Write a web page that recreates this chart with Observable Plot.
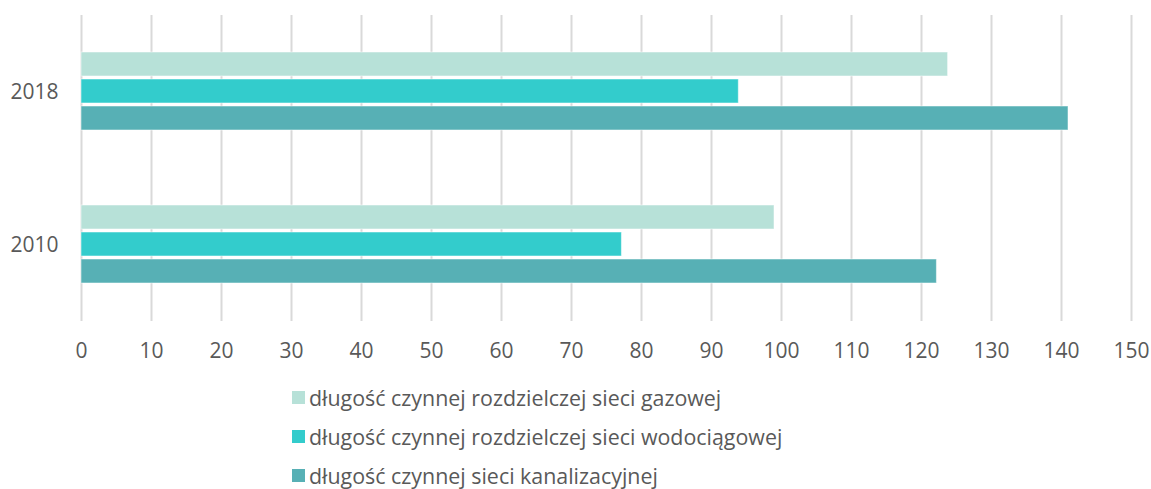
<!DOCTYPE html>
<html>
<head>
<meta charset="utf-8">
<script src="https://cdn.jsdelivr.net/npm/d3@7"></script>
<script src="https://cdn.jsdelivr.net/npm/@observablehq/plot@0.6"></script>
<style>
  body { margin: 0; background: #fff; font-family: "Open Sans", sans-serif; overflow: hidden; }
  #legend { margin-top: 12px; padding-left: 292px; color: #595959; font-size: 21.4px; line-height: 24px; }
  .row { height: 39px; display: flex; align-items: center; }
  .sw { width: 13px; height: 13px; margin-right: 4px; flex: none; }
</style>
</head>
<body>
<div id="chart"></div>
<div id="legend"></div>
<script>
const years = ["2018", "2010"];
const series = [
  "długość czynnej rozdzielczej sieci gazowej",
  "długość czynnej rozdzielczej sieci wodociągowej",
  "długość czynnej sieci kanalizacyjnej"
];
const gas = [123.8, 99.0];
const water = [93.9, 77.2];
const sewer = [141.0, 122.2];
const colors = ["#b7e1d8", "#33cccc", "#57b0b5"];
const xTicks = d3.range(0, 151, 10);

const seriesValues = [gas, water, sewer];
const data = [];
years.forEach((yr, i) => {
  series.forEach((s, j) => data.push({year: yr, series: s, value: seriesValues[j][i]}));
});

const chart = Plot.plot({
  width: 1151,
  height: 366,
  marginLeft: 81,
  marginRight: 20,
  marginTop: 15,
  marginBottom: 45,
  style: {fontFamily: "Open Sans, sans-serif", fontSize: "21px", color: "#595959", background: "#fff"},
  x: {domain: [0, 150], ticks: xTicks, tickSize: 0, tickPadding: 22, label: null, line: false},
  y: {domain: series, axis: null, paddingInner: 0.11, paddingOuter: 1.337},
  fy: {domain: years, padding: 0, label: null, tickSize: 0, tickPadding: 23},
  color: {domain: series, range: colors},
  marks: [
    Plot.ruleX(xTicks, {stroke: "#d9d9d9", strokeWidth: 2}),
    Plot.barX(data, {x: "value", y: "series", fy: "year", fill: "series", stroke: "#ffffff", strokeOpacity: 0.5, strokeWidth: 1})
  ]
});
document.getElementById("chart").appendChild(chart);

const legend = document.getElementById("legend");
series.forEach((s, j) => {
  const row = document.createElement("div");
  row.className = "row";
  const sw = document.createElement("span");
  sw.className = "sw";
  sw.style.background = colors[j];
  const t = document.createElement("span");
  t.textContent = s;
  row.appendChild(sw);
  row.appendChild(t);
  legend.appendChild(row);
});
</script>
</body>
</html>
